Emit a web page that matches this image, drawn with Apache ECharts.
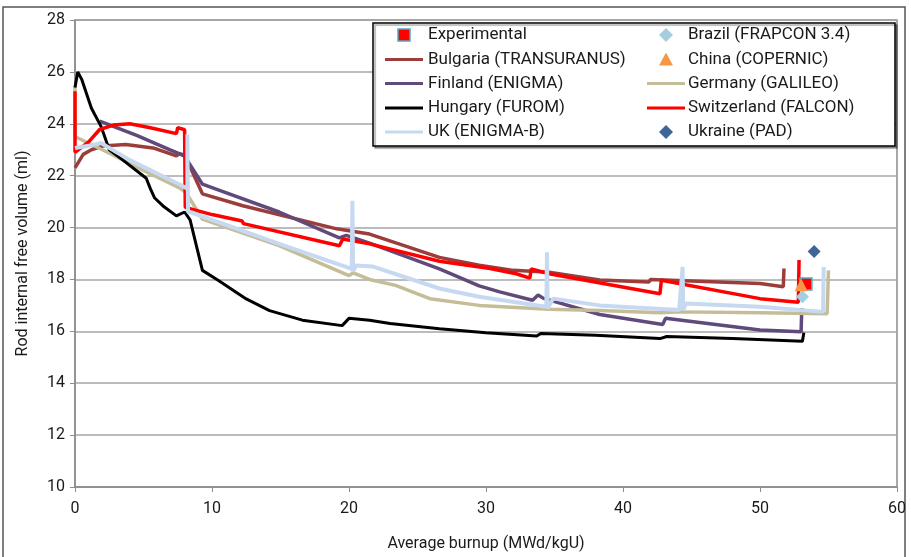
<!DOCTYPE html>
<html>
<head>
<meta charset="utf-8">
<script src="https://cdn.jsdelivr.net/npm/echarts@6/dist/echarts.min.js"></script>
<style>
html,body{margin:0;padding:0;background:#fff;}
#chart{width:911px;height:557px;}
</style>
</head>
<body>
<div id="chart"></div>
<script>
// ---- data ----
var xTicks = [0, 10, 20, 30, 40, 50, 60];
var yTicks = [10, 12, 14, 16, 18, 20, 22, 24, 26, 28];

var experimental = [[53.35, 17.82]];
var brazil = [[53.1, 17.33]];
var china = [[53.0, 17.8]];
var ukraine = [[53.95, 19.08]];

var bulgaria = [[0,22.3],[0.6,22.82],[1.2,23.0],[2.0,23.14],[3.7,23.2],[5.7,23.07],[7.4,22.76],[7.6,22.85],[8.0,22.8],[9.3,21.3],[12.25,20.84],[19.1,19.95],[19.15,20.0],[21.5,19.75],[26.6,18.85],[29.5,18.55],[32,18.35],[34.6,18.28],[38.3,17.98],[41.9,17.9],[42.0,18.0],[50,17.84],[51.7,17.72],[51.75,18.42]];

var finland = [[1.8,24.1],[4.5,23.55],[6.9,23.0],[7.6,22.85],[8.0,22.75],[9.3,21.67],[10.3,21.48],[14.9,20.6],[19.3,19.6],[19.8,19.7],[21.5,19.4],[26.6,18.41],[29.5,17.75],[31.0,17.52],[33.4,17.2],[33.8,17.4],[34.2,17.27],[38.3,16.65],[42.9,16.26],[43.1,16.5],[50,16.05],[53.0,15.98],[53.05,16.9]];

var germany = [[0,25.45],[0.02,23.5],[1,23.25],[2.0,23.0],[5,22.2],[7.6,21.54],[8.1,21.35],[9.3,20.33],[14.9,19.3],[20.0,18.15],[20.3,18.25],[21.5,18.0],[23.4,17.77],[25.9,17.26],[29.5,17.0],[34.6,16.85],[38.3,16.8],[42.7,16.72],[44.1,16.75],[50,16.72],[54.9,16.68],[55.0,18.35]];

var hungary = [[0,25.4],[0.2,26.0],[0.5,25.7],[1.2,24.6],[1.9,23.9],[2.5,23.0],[3.5,22.6],[5.2,21.9],[5.5,21.5],[5.8,21.15],[6.5,20.8],[7.4,20.45],[8.0,20.6],[8.4,20.3],[9.3,18.35],[10.5,17.95],[12.5,17.25],[14.2,16.8],[16.6,16.43],[19.5,16.22],[20.0,16.5],[21.5,16.43],[23,16.3],[26.6,16.1],[30,15.95],[33.7,15.82],[34.0,15.92],[38,15.85],[42.7,15.72],[43.2,15.8],[48,15.72],[53.1,15.62],[53.2,15.95]];

var switzerland = [[0,25.25],[0,22.9],[1.0,23.3],[1.8,23.78],[2.8,23.95],[4.0,24.0],[5.5,23.85],[7.4,23.62],[7.5,23.85],[8.0,23.77],[8.05,20.78],[10,20.5],[12.2,20.25],[12.3,20.15],[19.3,19.3],[19.55,19.56],[21.5,19.37],[26.6,18.7],[30.3,18.42],[32.2,18.22],[33.2,18.05],[33.3,18.4],[34.6,18.22],[42.7,17.45],[42.8,17.97],[50,17.26],[52.8,17.12],[52.85,18.75]];

var uk = [[0,23.07],[1.0,23.15],[1.9,23.26],[4,22.6],[7.6,21.67],[8.2,21.5],[8.2,23.6],[8.25,20.6],[8.5,20.58],[14.9,19.37],[20.2,18.41],[20.25,21.03],[20.3,18.3],[20.5,18.54],[21.7,18.5],[26.6,17.65],[29.5,17.33],[34.4,16.95],[34.45,19.05],[34.5,16.88],[34.9,17.26],[38.3,17.0],[44.1,16.82],[44.35,18.48],[44.4,16.82],[44.6,17.07],[50,16.95],[54.6,16.75],[54.65,18.48]];

// legend order (column 1, column 2)
var legendCol1 = ['Experimental', 'Bulgaria (TRANSURANUS)', 'Finland (ENIGMA)', 'Hungary (FUROM)', 'UK (ENIGMA-B)'];
var legendCol2 = ['Brazil (FRAPCON 3.4)', 'China (COPERNIC)', 'Germany (GALILEO)', 'Switzerland (FALCON)', 'Ukraine (PAD)'];

// ---- styles ----
var FONT = 'Roboto';
var styles = {
  'Experimental': {kind: 'rect', color: '#ff0000', border: '#4bacc6'},
  'Brazil (FRAPCON 3.4)': {kind: 'diamond', color: '#a5cfdf'},
  'Bulgaria (TRANSURANUS)': {kind: 'line', color: '#9b3e3b', width: 3.5},
  'China (COPERNIC)': {kind: 'triangle', color: '#f79646'},
  'Finland (ENIGMA)': {kind: 'line', color: '#604a7b', width: 3.5},
  'Germany (GALILEO)': {kind: 'line', color: '#c4bd97', width: 3.5},
  'Hungary (FUROM)': {kind: 'line', color: '#000000', width: 3},
  'Switzerland (FALCON)': {kind: 'line', color: '#ff0000', width: 3.5},
  'UK (ENIGMA-B)': {kind: 'line', color: '#c6d9f1', width: 4},
  'Ukraine (PAD)': {kind: 'diamond', color: '#3d6597'}
};

var chart = echarts.init(document.getElementById('chart'), null, {renderer: 'canvas'});

function lineSeries(name, data) {
  var s = styles[name];
  return {name: name, type: 'line', data: data, symbol: 'none',
    lineStyle: {color: s.color, width: s.width}, itemStyle: {color: s.color}, animation: false};
}
function markerSeries(name, data, size) {
  var s = styles[name];
  return {name: name, type: 'scatter', data: data, symbol: s.kind, symbolSize: size,
    itemStyle: {color: s.color, borderColor: s.border || s.color, borderWidth: s.border ? 1.5 : 0, opacity: 1},
    z: 5, animation: false};
}

// legend drawn as graphic elements
function legendItems(names, iconLeft, textLeft, rows) {
  var out = [];
  names.forEach(function (name, i) {
    var s = styles[name];
    var cy = rows[i];
    var cx = iconLeft + 19;
    if (s.kind === 'line') {
      out.push({type: 'line', shape: {x1: iconLeft, y1: cy, x2: iconLeft + 38, y2: cy},
        style: {stroke: s.color, lineWidth: 3}, z: 60, silent: true});
    } else if (s.kind === 'rect') {
      out.push({type: 'rect', shape: {x: cx - 6, y: cy - 6, width: 12, height: 12},
        style: {fill: s.color, stroke: s.border, lineWidth: 1.5}, z: 60, silent: true});
    } else if (s.kind === 'diamond') {
      out.push({type: 'polygon', shape: {points: [[cx, cy - 7], [cx + 7, cy], [cx, cy + 7], [cx - 7, cy]]},
        style: {fill: s.color}, z: 60, silent: true});
    } else if (s.kind === 'triangle') {
      out.push({type: 'polygon', shape: {points: [[cx, cy - 7], [cx + 7, cy + 6], [cx - 7, cy + 6]]},
        style: {fill: s.color}, z: 60, silent: true});
    }
    out.push({type: 'text', x: textLeft, y: cy, z: 60, silent: true,
      style: {text: name, font: '17px ' + FONT, fill: '#1a1a1a', verticalAlign: 'middle', align: 'left'}});
  });
  return out;
}
var legendRows = [35, 59.5, 83.5, 108, 132];

var graphics = [
  {type: 'rect', shape: {x: 3, y: 7, width: 902, height: 560}, style: {fill: 'none', stroke: '#555', lineWidth: 1.5}, silent: true, z: -10},
  {type: 'rect', shape: {x: 373, y: 23, width: 522, height: 123}, style: {fill: '#fff', stroke: '#000', lineWidth: 1.5, shadowColor: 'rgba(0,0,0,0.35)', shadowOffsetX: 2, shadowOffsetY: 2, shadowBlur: 1}, silent: true, z: 50}
].concat(legendItems(legendCol1, 385, 428, legendRows)).concat(legendItems(legendCol2, 647, 688, legendRows));

var option = {
  backgroundColor: '#fff',
  animation: false,
  grid: {left: 75, right: 14, top: 20, bottom: 67, show: true, borderColor: '#8c8c8c', borderWidth: 1.5, backgroundColor: 'transparent'},
  xAxis: {
    type: 'value', min: xTicks[0], max: xTicks[xTicks.length - 1], interval: 10,
    name: 'Average burnup (MWd/kgU)', nameLocation: 'middle', nameGap: 49,
    nameTextStyle: {fontFamily: FONT, fontSize: 16, color: '#1a1a1a'},
    axisLine: {show: true, lineStyle: {color: '#8c8c8c', width: 1.5}},
    axisTick: {show: true, length: 5, lineStyle: {color: '#8c8c8c'}},
    axisLabel: {fontFamily: FONT, fontSize: 16, color: '#1a1a1a', margin: 14},
    splitLine: {show: false}
  },
  yAxis: {
    type: 'value', min: yTicks[0], max: yTicks[yTicks.length - 1], interval: 2,
    name: 'Rod internal free volume (ml)', nameLocation: 'middle', nameGap: 44,
    nameTextStyle: {fontFamily: FONT, fontSize: 16, color: '#1a1a1a'},
    axisLine: {show: true, lineStyle: {color: '#8c8c8c', width: 1.5}},
    axisTick: {show: true, length: 5, lineStyle: {color: '#8c8c8c'}},
    axisLabel: {fontFamily: FONT, fontSize: 16, color: '#1a1a1a', margin: 10},
    splitLine: {show: true, lineStyle: {color: '#a6a6a6', width: 1.5}}
  },
  graphic: graphics,
  series: [
    markerSeries('Experimental', experimental, 12),
    markerSeries('Brazil (FRAPCON 3.4)', brazil, 13),
    lineSeries('Bulgaria (TRANSURANUS)', bulgaria),
    markerSeries('China (COPERNIC)', china, 13),
    lineSeries('Finland (ENIGMA)', finland),
    lineSeries('Germany (GALILEO)', germany),
    lineSeries('Hungary (FUROM)', hungary),
    lineSeries('Switzerland (FALCON)', switzerland),
    lineSeries('UK (ENIGMA-B)', uk),
    markerSeries('Ukraine (PAD)', ukraine, 13)
  ]
};
chart.setOption(option);
</script>
</body>
</html>
